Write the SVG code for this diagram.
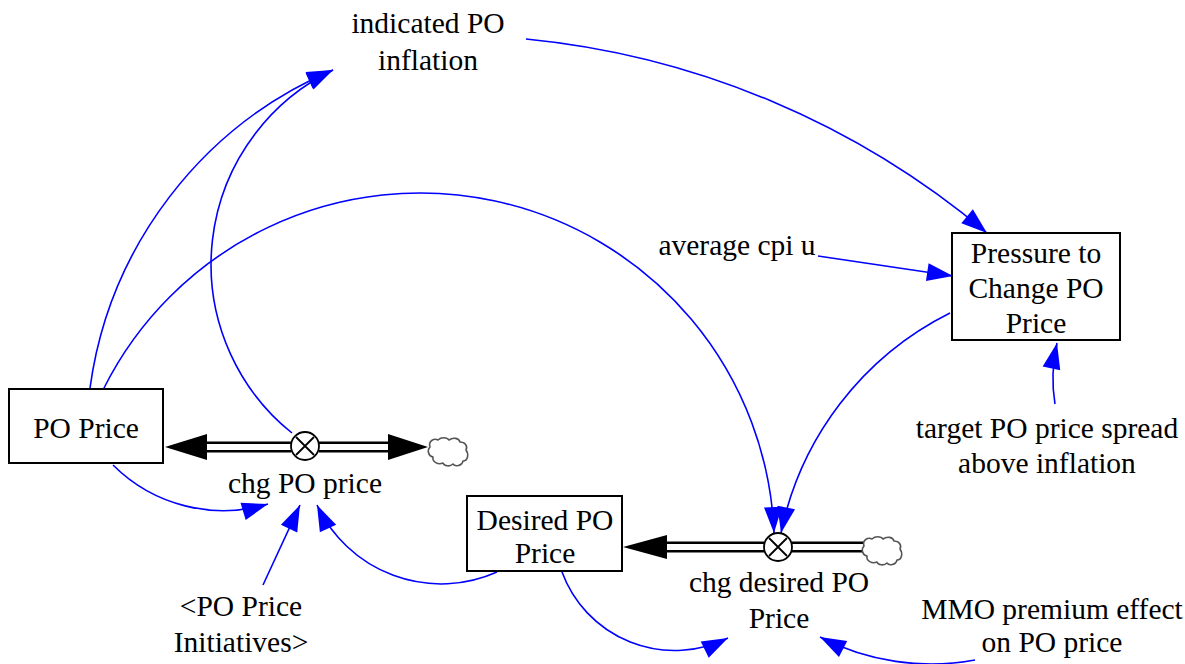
<svg xmlns="http://www.w3.org/2000/svg" xmlns:xlink="http://www.w3.org/1999/xlink" width="1185" height="664" viewBox="0 0 1185 664">
  <style>
    text { font-family: "Liberation Serif", "Times New Roman", serif; font-size: 29.5px; fill: #000; text-anchor: middle; }
    .box { fill: #fff; stroke: #000; stroke-width: 2; }
    .link { fill: none; stroke: #0000ff; stroke-width: 1.6; marker-end: url(#arrow); }
    .pipe-out { stroke: #000; stroke-width: 11; fill: none; }
    .pipe-in { stroke: #fff; stroke-width: 6; fill: none; }
    .flowhead { fill: #000; }
    .valve { fill: #fff; stroke: #000; stroke-width: 1.8; }
    .valve-x { stroke: #000; stroke-width: 1.8; }
    .cloud { fill: #fff; stroke: #555; stroke-width: 1.6; stroke-linejoin: round; }
  </style>
  <defs>
    <marker id="arrow" markerUnits="userSpaceOnUse" markerWidth="28" markerHeight="20" refX="26" refY="9" orient="auto" overflow="visible">
      <path d="M0,0 L26,9 L0,18 Z" fill="#0000ff"/>
    </marker>
    <path id="cloud" class="cloud" d="M2,10 C0,4 6,1 10,3 C13,0 19,0 21,3 C25,0 31,1 32,5 C37,5 40,9 38,13 C41,17 40,24 35,24 C34,29 27,30 25,27 C22,30 16,29 15,26 C10,28 4,25 5,20 C0,19 -1,13 2,10 Z"/>
  </defs>

  <!-- information links -->
  <g id="connectors">
    <path class="link" d="M90,388 A405,405 0 0 1 333,70"/>
    <path class="link" d="M292,433 A216,216 0 0 1 333,70"/>
    <path class="link" d="M104,388 A354,354 0 0 1 774,533"/>
    <path class="link" d="M526,39 A843,843 0 0 1 987,233"/>
    <path class="link" d="M818,256 L953,276"/>
    <path class="link" d="M950,313 A317,317 0 0 0 781,533"/>
    <path class="link" d="M1055,404 Q1050,375 1057,343"/>
    <path class="link" d="M113,465 A156,156 0 0 0 268,504"/>
    <path class="link" d="M263,585 L300,505"/>
    <path class="link" d="M497,572 A137,137 0 0 1 317,505"/>
    <path class="link" d="M562,572 A120,120 0 0 0 728,638"/>
    <path class="link" d="M975,660 A242,242 0 0 1 820,637"/>
  </g>

  <!-- stocks -->
  <g id="po-price">
    <rect class="box" x="9" y="389" width="154" height="74"/>
    <text x="86" y="438">PO Price</text>
  </g>
  <g id="desired-po-price">
    <rect class="box" x="467" y="496" width="155" height="75"/>
    <text x="545" y="530">Desired PO</text>
    <text x="545" y="563">Price</text>
  </g>

  <!-- flow: chg PO price -->
  <g id="chg-po-price">
    <path class="pipe-out" d="M205,447 H291 M319,447 H390"/>
    <path class="pipe-in" d="M203,447 H292 M318,447 H392"/>
    <polygon class="flowhead" points="165,447 207,434 207,460"/>
    <polygon class="flowhead" points="428,447 388,434 388,460"/>
    <use xlink:href="#cloud" x="428" y="437"/>
    <circle class="valve" cx="305" cy="446" r="14"/>
    <path class="valve-x" d="M296,437 L314,455 M314,437 L296,455"/>
    <text x="305" y="493">chg PO price</text>
  </g>

  <!-- flow: chg desired PO Price -->
  <g id="chg-desired-po-price">
    <path class="pipe-out" d="M665,547 H764 M792,547 H864"/>
    <path class="pipe-in" d="M663,547 H765 M791,547 H866"/>
    <polygon class="flowhead" points="623,547 667,535 667,559"/>
    <use xlink:href="#cloud" x="862" y="536"/>
    <circle class="valve" cx="778" cy="547" r="14"/>
    <path class="valve-x" d="M769,538 L787,556 M787,538 L769,556"/>
    <text x="779" y="592">chg desired PO</text>
    <text x="779" y="628">Price</text>
  </g>

  <!-- auxiliaries -->
  <g id="indicated-po-inflation">
    <text x="428" y="33">indicated PO</text>
    <text x="428" y="70">inflation</text>
  </g>
  <g id="pressure-to-change-po-price">
    <rect class="box" x="952" y="233" width="168" height="107"/>
    <text x="1036" y="263">Pressure to</text>
    <text x="1036" y="298">Change PO</text>
    <text x="1036" y="333">Price</text>
  </g>
  <g id="average-cpi-u">
    <text x="737" y="255">average cpi u</text>
  </g>
  <g id="target-po-price-spread">
    <text x="1047" y="438">target PO price spread</text>
    <text x="1047" y="473">above inflation</text>
  </g>
  <g id="po-price-initiatives">
    <text x="241" y="616">&lt;PO Price</text>
    <text x="241" y="652">Initiatives&gt;</text>
  </g>
  <g id="mmo-premium-effect">
    <text x="1052" y="619">MMO premium effect</text>
    <text x="1052" y="652">on PO price</text>
  </g>
</svg>
